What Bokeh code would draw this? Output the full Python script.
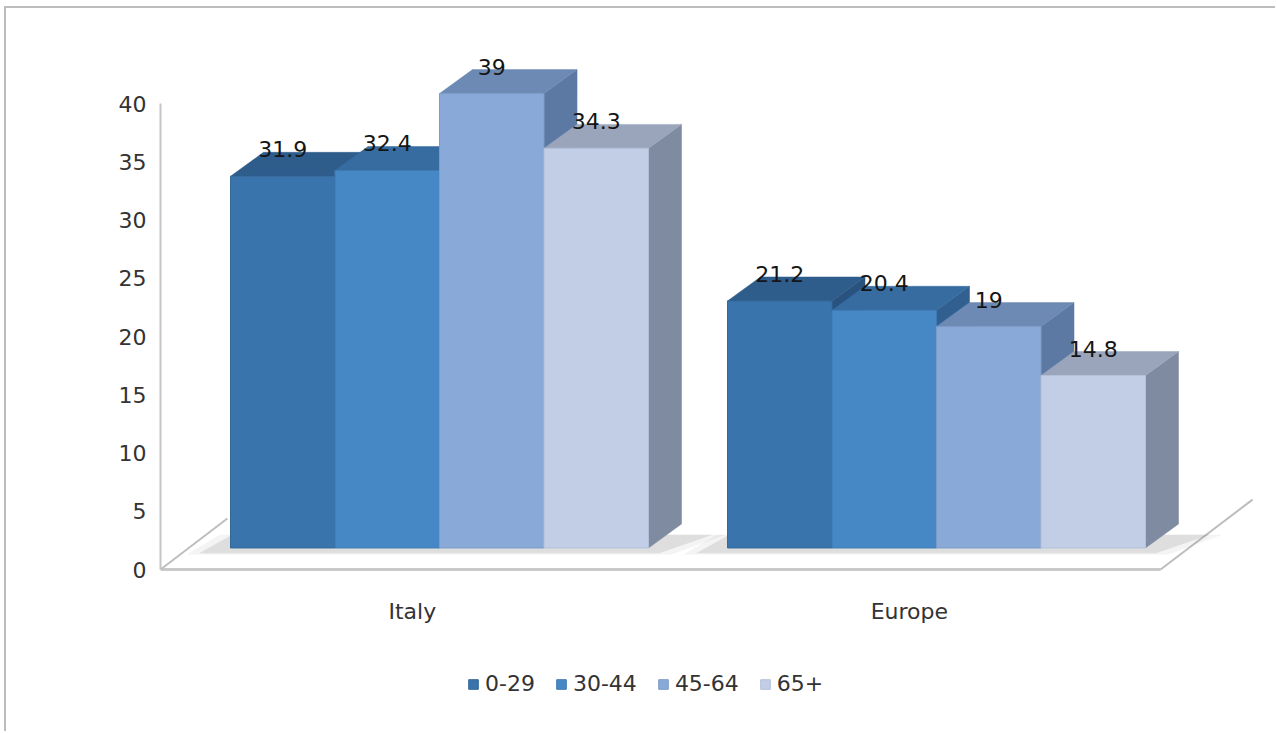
from bokeh.plotting import figure
from bokeh.models import Range1d, FixedTicker, Legend, LegendItem
from bokeh.embed import file_html
from bokeh.resources import INLINE
from bokeh.core.properties import value

# ---------------- data ----------------
categories = ["Italy", "Europe"]
series_names = ["0-29", "30-44", "45-64", "65+"]
italy_values = [31.9, 32.4, 39.0, 34.3]
europe_values = [21.2, 20.4, 19.0, 14.8]
y_tick_values = [0, 5, 10, 15, 20, 25, 30, 35, 40]
values_by_category = [italy_values, europe_values]

# ---------------- style ----------------
FRONT = ["#3A74AC", "#4688C6", "#89A9D8", "#C2CEE6"]
FRONT_EDGE = ["#336898", "#3F7AB2", "#7C9BC8", "#B3C0D9"]
TOP = ["#2E5D8C", "#376CA0", "#6C8AB4", "#9AA5BC"]
SIDE = ["#29527E", "#305F90", "#5B79A3", "#7F8BA0"]
FONT = "DejaVu Sans"
FS = "22px"

# layout constants (axis units: bar width = 1, y in value units)
BAR_W = 1.0
GROUP_LEFT = [0.67, 5.426]
BASE = 1.85          # front-face baseline above the floor's front edge
DX = 0.316           # depth offset (x)
DY = 2.06            # depth offset (y)
LABEL_LIFT = 2.32
CAT_LABEL_Y = -3.6
FLOOR_RIGHT = 9.57
FLOOR_BACK_LEFT = (0.64, 4.38)
FLOOR_BACK_RIGHT = (10.45, 6.0)

p = figure(width=1271, height=725,
           x_range=Range1d(0, 10.603), y_range=Range1d(-13.734, 45.41),
           output_backend="svg", toolbar_location=None,
           min_border_left=154, min_border_right=9,
           min_border_top=32, min_border_bottom=4,
           background_fill_color="white", border_fill_color="white",
           outline_line_color=None)
p.styles = {"margin-left": "4px", "margin-top": "6px",
            "border-left": "2px solid #bdbdbd", "border-top": "2px solid #bdbdbd"}
p.grid.visible = False
p.xaxis.visible = False

# floor
p.line([0, FLOOR_RIGHT], [0.0, 0.0], line_color="#c9c9c9", line_width=3)
p.line([0, FLOOR_BACK_LEFT[0]], [0.0, FLOOR_BACK_LEFT[1]], line_color="#bdbdbd", line_width=2)
p.line([FLOOR_RIGHT, FLOOR_BACK_RIGHT[0]], [0.0, FLOOR_BACK_RIGHT[1]], line_color="#bdbdbd", line_width=2)

# soft shadows under each group (two layers for a gentle falloff)
n_series = len(series_names)
for grow, alpha in [(0.0, 0.16), (0.12, 0.08)]:
    sh_xs, sh_ys = [], []
    for c in range(len(categories)):
        L = GROUP_LEFT[c]
        R = L + n_series * BAR_W
        sh_xs.append([L - 0.3 - grow, R + 0.1 + grow, R + DX + 0.3 + grow, L + DX - 0.3 - grow])
        sh_ys.append([BASE - 0.45 - grow, BASE - 0.45 - grow, BASE + DY * 0.55, BASE + DY * 0.55])
    p.patches(sh_xs, sh_ys, fill_color="#6f6f6f", fill_alpha=alpha, line_color=None)

legend_items = []
lab_x, lab_y, lab_t = [], [], []
for s, name in enumerate(series_names):
    vals = [values_by_category[c][s] for c in range(len(categories))]
    lefts = [GROUP_LEFT[c] + s * BAR_W for c in range(len(categories))]
    rights = [l + BAR_W for l in lefts]
    tops = [BASE + v for v in vals]
    side_xs = [[r, r + DX, r + DX, r] for r in rights]
    side_ys = [[BASE, BASE + DY, t + DY, t] for t in tops]
    top_xs = [[l, r, r + DX, l + DX] for l, r in zip(lefts, rights)]
    top_ys = [[t, t, t + DY, t + DY] for t in tops]
    p.patches(side_xs, side_ys, fill_color=SIDE[s], line_color=SIDE[s], line_width=0.5)
    p.patches(top_xs, top_ys, fill_color=TOP[s], line_color=TOP[s], line_width=0.5)
    r = p.quad(left=lefts, right=rights, bottom=BASE, top=tops,
               fill_color=FRONT[s], line_color=FRONT_EDGE[s], line_width=1)
    legend_items.append(LegendItem(label=name, renderers=[r]))
    for l, rr, t, v in zip(lefts, rights, tops, vals):
        lab_x.append((l + rr) / 2)
        lab_y.append(t + LABEL_LIFT)
        lab_t.append(f"{v:g}")

p.text(x=lab_x, y=lab_y, text=lab_t, text_align="center", text_baseline="middle",
       text_font=value(FONT), text_font_size=FS, text_color="#151515")

# category labels
cat_x = [GROUP_LEFT[c] + n_series * BAR_W / 2 - 0.26 for c in range(len(categories))]
p.text(x=cat_x, y=[CAT_LABEL_Y] * len(categories), text=categories,
       text_align="center", text_baseline="middle",
       text_font=value(FONT), text_font_size=FS, text_color="#333333")

# y axis
p.yaxis.ticker = FixedTicker(ticks=y_tick_values)
p.yaxis.bounds = (0, 40)
p.yaxis.axis_line_color = "#c4c4c4"
p.yaxis.axis_line_width = 2
p.yaxis.major_tick_line_color = None
p.yaxis.minor_tick_line_color = None
p.yaxis.major_tick_out = 0
p.yaxis.major_label_standoff = 14
p.yaxis.major_label_text_font = FONT
p.yaxis.major_label_text_font_size = FS
p.yaxis.major_label_text_color = "#333333"

legend = Legend(items=legend_items, orientation="horizontal", location=(307, 33),
                border_line_color=None, background_fill_alpha=0,
                glyph_width=12, glyph_height=12, label_standoff=6, spacing=20,
                padding=0, margin=0,
                label_text_font=FONT, label_text_font_size=FS, label_text_color="#333333")
p.add_layout(legend)

open("out.html", "w").write(file_html(p, INLINE))
